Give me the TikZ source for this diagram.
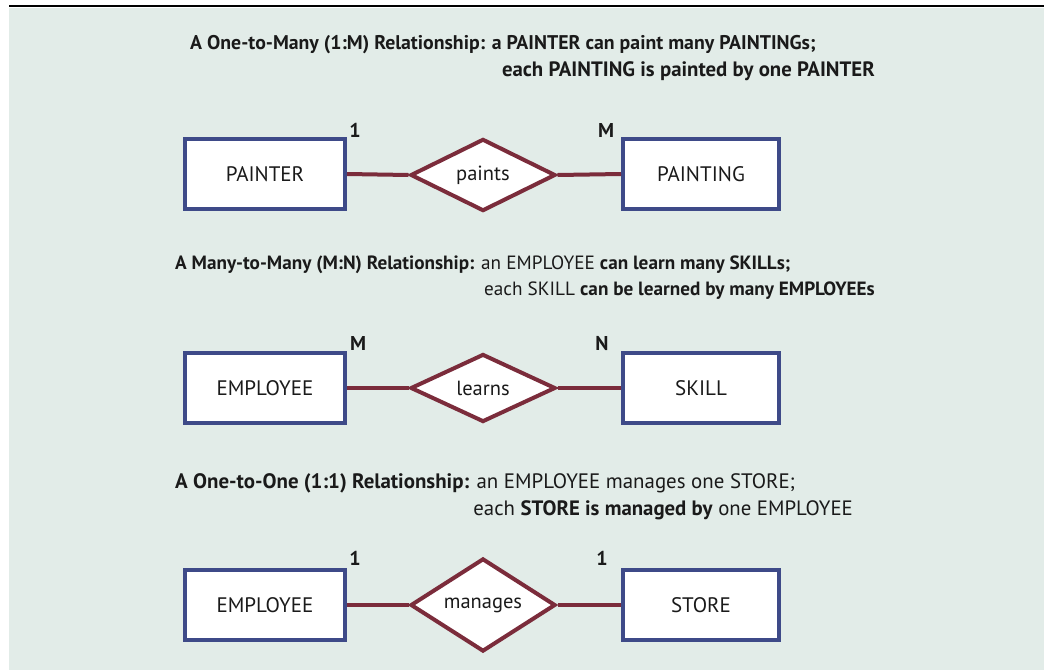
\documentclass[tikz,border=0pt]{standalone}
\usepackage{fontspec}
\setmainfont{PT Sans}
\usetikzlibrary{shapes.geometric}
\definecolor{panel}{HTML}{E2ECE8}
\definecolor{entityblue}{HTML}{3E4A88}
\definecolor{relred}{HTML}{7B2C3B}
\definecolor{ink}{HTML}{1A1A1A}
\newcommand{\headsz}[1]{\fontsize{#1}{#1}\selectfont}
\begin{document}
\begin{tikzpicture}[x=1pt,y=-1pt,
  entity/.style={draw=entityblue,line width=4pt,fill=white,minimum width=160pt,minimum height=70pt,inner sep=0pt,font=\fontsize{21}{24}\selectfont,text=ink},
  relation/.style={diamond,draw=relred,line width=4pt,fill=white,minimum width=145pt,minimum height=64pt,inner sep=0pt,font=\fontsize{20.5}{24}\selectfont,text=ink},
  link/.style={draw=relred,line width=4pt},
  card/.style={font=\bfseries\fontsize{20}{24}\selectfont,text=ink,inner sep=0pt},
  heading/.style={text=ink,inner sep=0pt}]
\useasboundingbox (0,0) rectangle (1044,670);
% panel and top rule
\fill[white] (0,0) rectangle (1044,670);
\fill[panel] (9,8) rectangle (1044,670);
\draw[black,line width=2.5pt] (9,6) -- (1044,6);

% 1:M
\node[heading,anchor=west,font=\headsz{19.8}] (h1a) at (190,45) {\textbf{A One-to-Many (1:M) Relationship: a PAINTER can paint many PAINTINGs;}};
\node[heading,anchor=east,font=\headsz{20.8}] (h1b) at (875,71) {\textbf{each PAINTING is painted by one PAINTER}};
\node[entity] (painter) at (265,174) {PAINTER};
\node[relation] (paints) at (483,175) {paints};
\node[entity,minimum width=156pt] (painting) at (701,174) {PAINTING};
\draw[link] (painter.east) -- (paints.west);
\draw[link] (paints.east) -- (painting.west);
\node[card] (c1a) at (355,130) {1};
\node[card] (c1b) at (606,130) {M};

% M:N
\node[heading,anchor=west,font=\headsz{19.2}] (h2a) at (175,265) {\textbf{A Many-to-Many (M:N) Relationship:} an EMPLOYEE \textbf{can learn many SKILLs;}};
\node[heading,anchor=east,font=\headsz{19.2}] (h2b) at (875,291) {each SKILL \textbf{can be learned by many EMPLOYEEs}};
\node[entity] (emp1) at (265,388) {EMPLOYEE};
\node[relation] (learns) at (483,388) {learns};
\node[entity,minimum width=156pt] (skill) at (701,388) {SKILL};
\draw[link] (emp1.east) -- (learns.west);
\draw[link] (learns.east) -- (skill.west);
\node[card] (c2a) at (358,343) {M};
\node[card] (c2b) at (602,343) {N};

% 1:1
\node[heading,anchor=west,font=\headsz{20.9}] (h3a) at (175,483) {\textbf{A One-to-One (1:1) Relationship:} an EMPLOYEE manages one STORE;};
\node[heading,anchor=east,font=\headsz{20.8}] (h3b) at (853,510) {each \textbf{STORE is managed by} one EMPLOYEE};
\node[entity] (emp2) at (265,605) {EMPLOYEE};
\node[relation] (manages) at (483,605) {manages};
\node[entity,minimum width=156pt] (store) at (701,605) {STORE};
\draw[link] (emp2.east) -- (manages.west);
\draw[link] (manages.east) -- (store.west);
\node[card] (c3a) at (355,558) {1};
\node[card] (c3b) at (602,558) {1};
\end{tikzpicture}
\end{document}
